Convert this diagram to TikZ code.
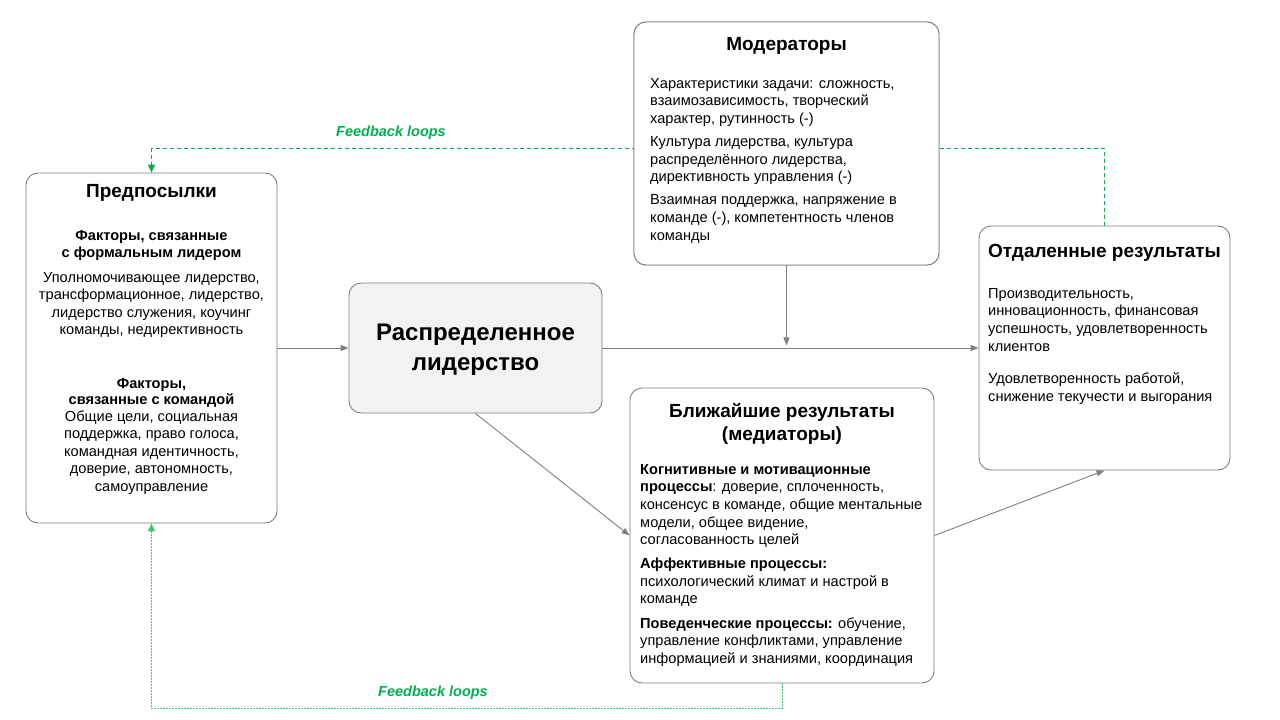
\documentclass[tikz,border=0pt]{standalone}
\usepackage{fontspec}
\setmainfont{Liberation Sans}
\usetikzlibrary{arrows.meta,calc}
\definecolor{lgray}{HTML}{7F7F7F}
\definecolor{fgreen}{HTML}{00B050}
\definecolor{lgreen}{HTML}{3CC878}
\definecolor{cfill}{HTML}{F2F2F2}
\tikzset{
  box/.style={draw=lgray, line width=0.9pt, rounded corners=12pt, fill=white, inner sep=0pt},
  conn/.style={draw=lgray, line width=0.9pt, -{Triangle[length=8pt,width=6pt]}},
  fbtop/.style={draw=fgreen, line width=0.9pt, dash pattern=on 4pt off 3pt, -{Triangle[length=8pt,width=7pt]}},
  fbbot/.style={draw=lgreen, line width=0.9pt, dash pattern=on 2pt off 1pt, -{Triangle[length=8pt,width=7pt]}},
  fblabel/.style={text=fgreen, font=\fontsize{14.5}{16}\selectfont\bfseries\itshape},
  ttl/.style={font=\fontsize{19}{23}\selectfont\bfseries, align=center, inner sep=0pt},
  body/.style={font=\fontsize{14.6}{17.6}\selectfont, inner sep=0pt},
}
\begin{document}
\begin{tikzpicture}[x=1pt,y=-1pt]
\useasboundingbox (0,0) rectangle (1280,720);

% boxes
\node[box, minimum width=251pt, minimum height=350pt] (pre) at (151.5,348) {};
\node[box, minimum width=253pt, minimum height=130pt, fill=cfill] (cen) at (475.5,348) {};
\node[box, minimum width=305pt, minimum height=243pt] (mod) at (786.5,143.5) {};
\node[box, minimum width=304pt, minimum height=295pt] (bot) at (782,535.5) {};
\node[box, minimum width=251pt, minimum height=244pt] (rb) at (1104.5,348) {};

% feedback loops
\coordinate (topcorner) at ($(pre.north)+(0,-24)$);
\coordinate (botcorner) at ($(pre.south)+(0,185)$);
\draw[fbtop] (rb.north) |- (topcorner) -- (pre.north);
\draw[fbbot] (bot.south) |- (botcorner) -- (pre.south);
\node[fblabel] (fb1) at (391,133) {Feedback loops};
\node[fblabel] (fb2) at (433,693) {Feedback loops};

% redraw moderators box over the loop
\node[box, minimum width=305pt, minimum height=243pt] (mod2) at (786.5,143.5) {};

% connectors
\coordinate (modtip) at ($(mod.south)+(0,80)$);
\draw[conn] (pre.east) -- (cen.west);
\draw[conn] (cen.east) -- (rb.west);
\draw[conn] (mod.south) -- (modtip);
\draw[conn] (cen.south) -- (bot.west);
\draw[conn] (bot.east) -- (rb.south);

% texts: Предпосылки
\node[ttl] (preT) at (151.5,193) {Предпосылки};
\node[body, align=center, anchor=north] (preB) at (151.5,230) {%
\textbf{Факторы, связанные}\\
\textbf{с формальным лидером}\\[6.5pt]
Уполномочивающее лидерство,\\
трансформационное, лидерство,\\
лидерство служения, коучинг\\
команды, недирективность\\[36pt]
\textbf{Факторы,}\\[-1.5pt]
\textbf{связанные с командой}\\[-1pt]
Общие цели, социальная\\
поддержка, право голоса,\\
командная идентичность,\\
доверие, автономность,\\
самоуправление};

% central
\node[font=\fontsize{24}{30}\selectfont\bfseries, align=center, inner sep=0pt] (cenT) at ($(cen.center)+(0,2)$) {Распределенное\\лидерство};

% moderators
\node[ttl] (modT) at (786.5,46) {Модераторы};
\node[body, align=left, anchor=north west] (modB) at (650,78) {%
Характеристики задачи: сложность,\\
взаимозависимость, творческий\\
характер, рутинность (-)\\[5.5pt]
Культура лидерства, культура\\
распределённого лидерства,\\
директивность управления (-)\\[5.5pt]
Взаимная поддержка, напряжение в\\
команде (-), компетентность членов\\
команды};

% right box
\node[ttl] (rbT) at (1104.5,253) {Отдаленные результаты};
\node[body, align=left, anchor=north west] (rbB) at (988,288) {%
Производительность,\\
инновационность, финансовая\\
успешность, удовлетворенность\\
клиентов\\[15pt]
Удовлетворенность работой,\\
снижение текучести и выгорания};

% bottom box
\node[ttl] (botT) at (782,423.5) {Ближайшие результаты\\(медиаторы)};
\node[body, align=left, anchor=north west] (botB) at (640,464) {%
\textbf{Когнитивные и мотивационные}\\
\textbf{процессы}: доверие, сплоченность,\\
консенсус в команде, общие ментальные\\
модели, общее видение,\\
согласованность целей\\[6.5pt]
\textbf{Аффективные процессы:}\\
психологический климат и настрой в\\
команде\\[6.5pt]
\textbf{Поведенческие процессы:} обучение,\\
управление конфликтами, управление\\
информацией и знаниями, координация};
\end{tikzpicture}
\end{document}
